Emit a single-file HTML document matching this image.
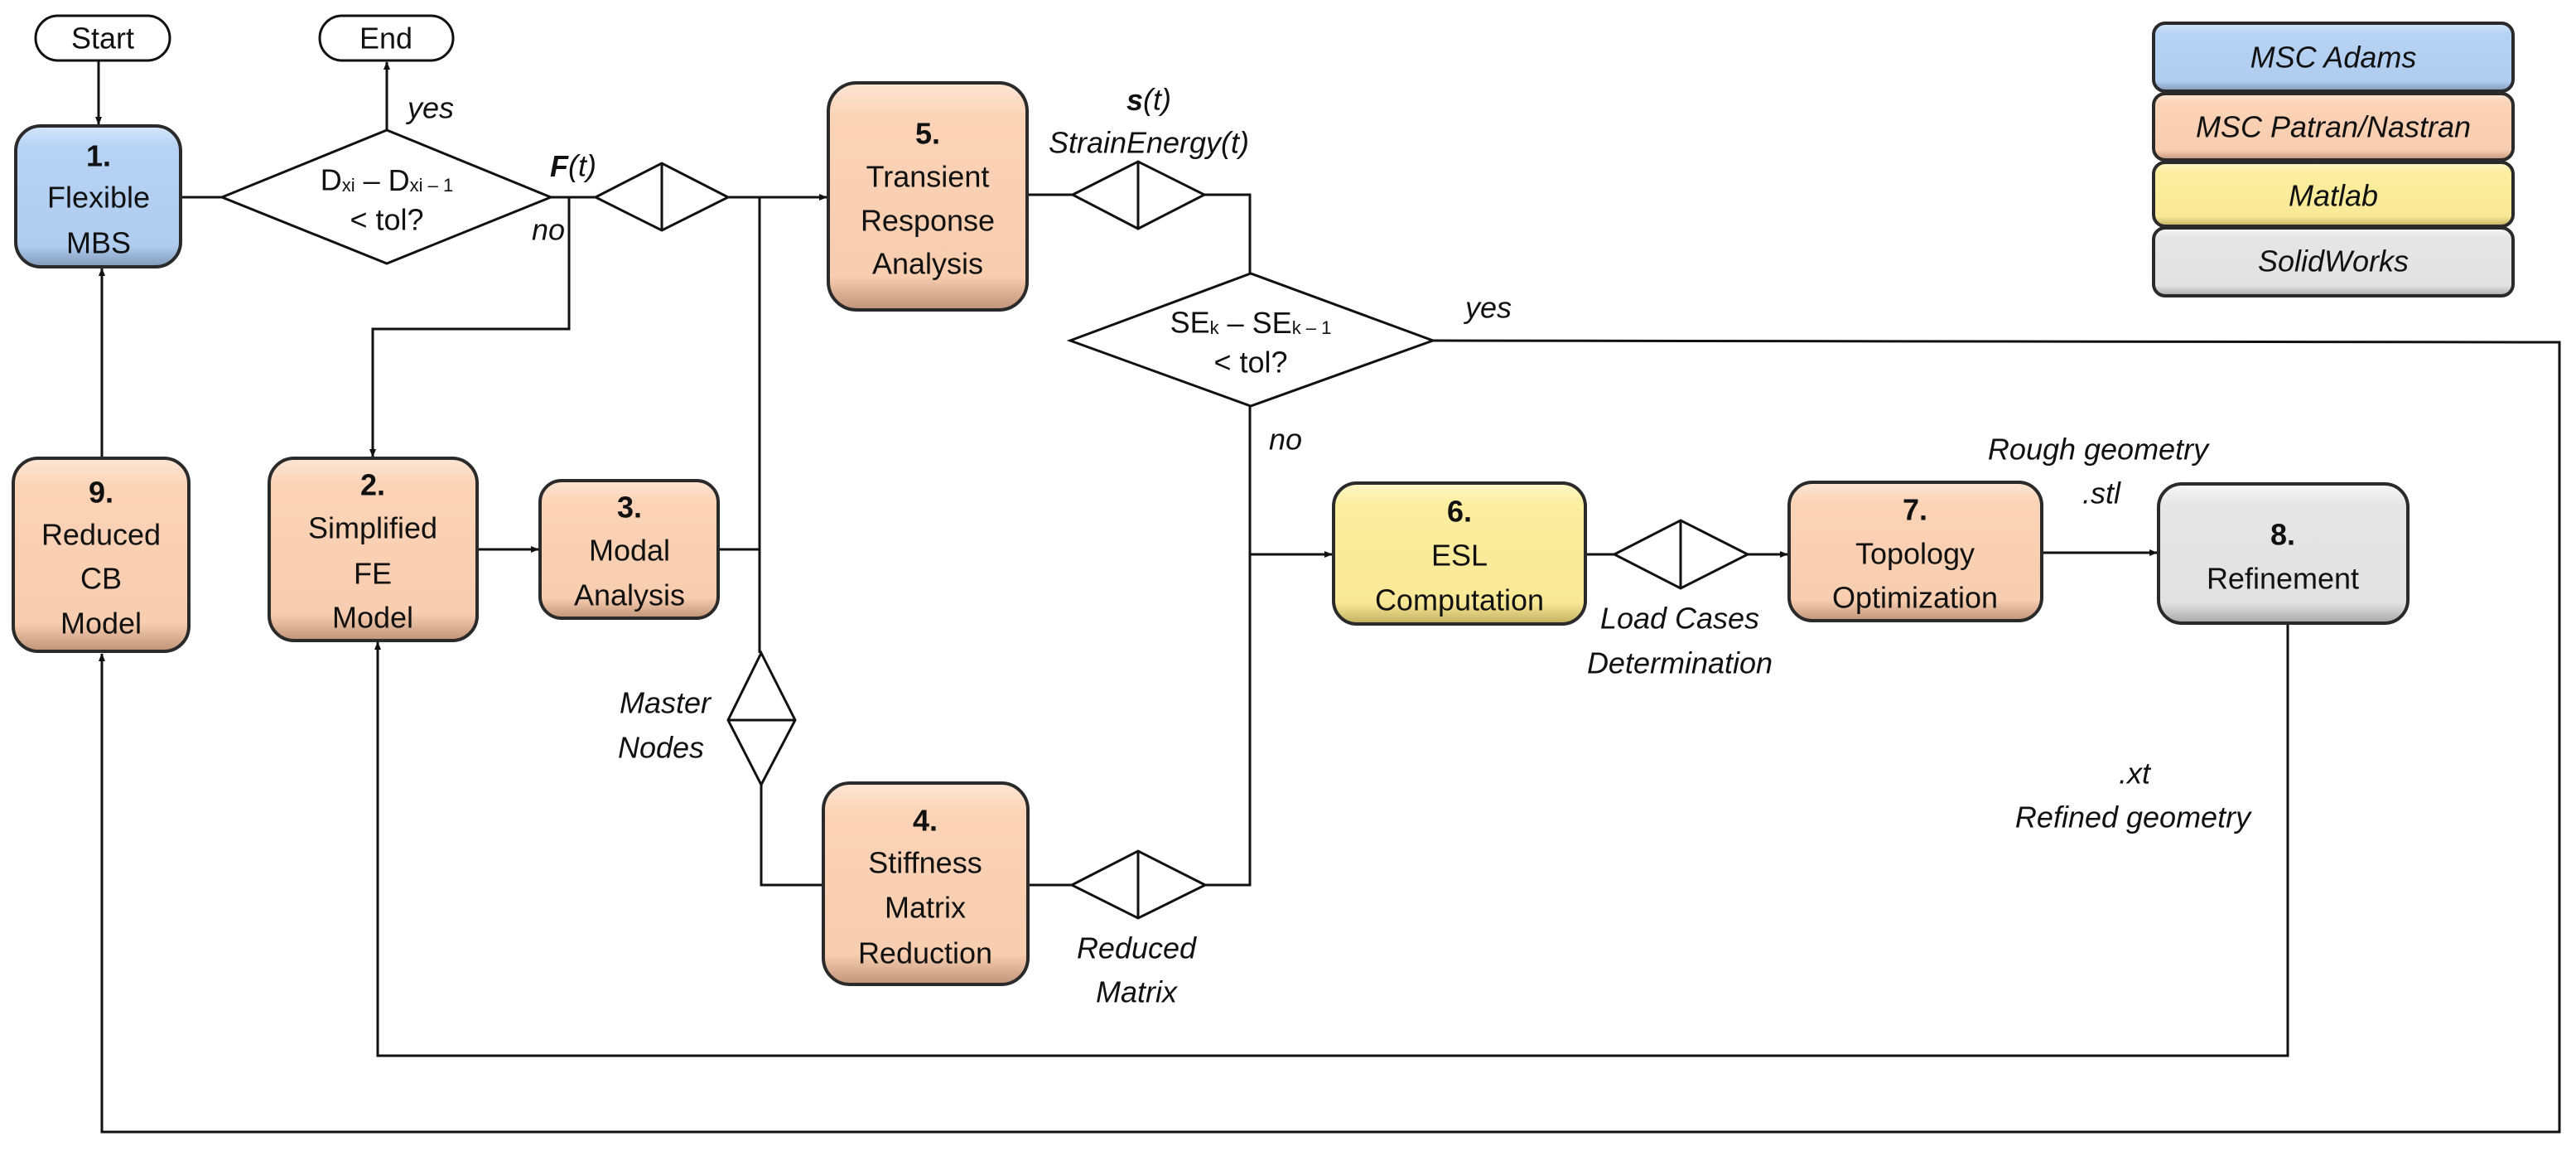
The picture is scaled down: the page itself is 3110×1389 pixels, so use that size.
<!DOCTYPE html>
<html><head><meta charset="utf-8"><style>
html,body{margin:0;padding:0;background:#fff;}
svg{display:block;}
text{font-family:"Liberation Sans",sans-serif;fill:#111;}
.t{font-size:36px;text-anchor:middle;dominant-baseline:central;}
.b{font-weight:bold;}
.i{font-style:italic;}
.ln{stroke:#111;stroke-width:3;fill:none;}
.dm{stroke:#111;stroke-width:3;fill:#fff;}
.bx{stroke:#2a2a2a;stroke-width:4;}
</style></head><body>
<svg width="3110" height="1389" viewBox="0 0 3110 1389" xmlns="http://www.w3.org/2000/svg">
<defs>
<linearGradient id="gB" x1="0" y1="0" x2="0" y2="1"><stop offset="0" stop-color="#d4e6fa"/><stop offset="0.15" stop-color="#b6d3f4"/><stop offset="0.85" stop-color="#b0cdef"/><stop offset="1" stop-color="#7f99b8"/></linearGradient>
<linearGradient id="gO" x1="0" y1="0" x2="0" y2="1"><stop offset="0" stop-color="#fde6d4"/><stop offset="0.15" stop-color="#fbd3b6"/><stop offset="0.85" stop-color="#f8cdb0"/><stop offset="1" stop-color="#c09478"/></linearGradient>
<linearGradient id="gY" x1="0" y1="0" x2="0" y2="1"><stop offset="0" stop-color="#fef6c8"/><stop offset="0.15" stop-color="#fcee9f"/><stop offset="0.85" stop-color="#f9e997"/><stop offset="1" stop-color="#bfae5e"/></linearGradient>
<linearGradient id="gG" x1="0" y1="0" x2="0" y2="1"><stop offset="0" stop-color="#f6f6f6"/><stop offset="0.15" stop-color="#e6e6e6"/><stop offset="0.85" stop-color="#e2e2e2"/><stop offset="1" stop-color="#a9a9a9"/></linearGradient>
<marker id="ar" markerWidth="10" markerHeight="10" refX="9" refY="5" orient="auto" markerUnits="userSpaceOnUse"><path d="M0,1 L10,5 L0,9 z" fill="#111"/></marker>
</defs>

<!-- connectors -->
<line class="ln" x1="119" y1="73" x2="119" y2="150" marker-end="url(#ar)"/>
<line class="ln" x1="467" y1="157" x2="467" y2="75" marker-end="url(#ar)"/>
<line class="ln" x1="218" y1="238" x2="268" y2="238"/>
<line class="ln" x1="665" y1="238" x2="719" y2="238"/>
<line class="ln" x1="879" y1="238" x2="998" y2="238" marker-end="url(#ar)"/>
<polyline class="ln" points="687,238 687,397 450,397 450,551" marker-end="url(#ar)"/>
<polyline class="ln" points="917,238 917,788"/>
<line class="ln" x1="556" y1="663" x2="650" y2="663" marker-end="url(#ar)"/>
<polyline class="ln" points="867,663 917,663"/>
<polyline class="ln" points="919,947 919,1068 994,1068"/>
<line class="ln" x1="1241" y1="1068" x2="1294" y2="1068"/>
<polyline class="ln" points="1455,1068 1509,1068 1509,490"/>
<line class="ln" x1="1509" y1="669" x2="1608" y2="669" marker-end="url(#ar)"/>
<line class="ln" x1="1240" y1="235" x2="1295" y2="235"/>
<polyline class="ln" points="1454,235 1509,235 1509,330"/>
<polyline class="ln" points="1730,411 3090,413 3090,1366 123,1366 123,789" marker-end="url(#ar)"/>
<line class="ln" x1="123" y1="553" x2="123" y2="324" marker-end="url(#ar)"/>
<line class="ln" x1="1914" y1="669" x2="1949" y2="669"/>
<line class="ln" x1="2110" y1="669" x2="2158" y2="669" marker-end="url(#ar)"/>
<line class="ln" x1="2465" y1="667" x2="2604" y2="667" marker-end="url(#ar)"/>
<polyline class="ln" points="2762,752 2762,1274 456,1274 456,775" marker-end="url(#ar)"/>

<!-- terminators -->
<rect x="43" y="19" width="162" height="54" rx="27" fill="#fff" stroke="#111" stroke-width="3"/>
<text class="t" x="124" y="46">Start</text>
<rect x="386" y="19" width="161" height="54" rx="27" fill="#fff" stroke="#111" stroke-width="3"/>
<text class="t" x="466" y="46">End</text>

<!-- decision diamonds -->
<polygon class="dm" points="268,238 467,157 665,238 467,318"/>
<text class="t" x="467" y="217">D<tspan font-size="22" dy="6">xi</tspan><tspan dy="-6"> – D</tspan><tspan font-size="22" dy="6">xi – 1</tspan></text>
<text class="t" x="467" y="265">&lt; tol?</text>
<polygon class="dm" points="1292,411 1510,330 1730,411 1510,490"/>
<text class="t" x="1510" y="389">SE<tspan font-size="22" dy="6">k</tspan><tspan dy="-6"> – SE</tspan><tspan font-size="22" dy="6">k – 1</tspan></text>
<text class="t" x="1510" y="437">&lt; tol?</text>

<!-- small diamonds -->
<polygon class="dm" points="719,238 799,197 879,238 799,278"/><line class="ln" x1="799" y1="197" x2="799" y2="278"/>
<polygon class="dm" points="1295,235 1374,195 1454,235 1374,276"/><line class="ln" x1="1374" y1="195" x2="1374" y2="276"/>
<polygon class="dm" points="919,788 960,869 919,947 879,869"/><line class="ln" x1="879" y1="869" x2="960" y2="869"/>
<polygon class="dm" points="1294,1068 1374,1027 1455,1068 1374,1108"/><line class="ln" x1="1374" y1="1027" x2="1374" y2="1108"/>
<polygon class="dm" points="1949,669 2029,628 2110,669 2029,710"/><line class="ln" x1="2029" y1="628" x2="2029" y2="710"/>

<!-- boxes -->
<rect class="bx" x="19" y="152" width="199" height="170" rx="30" fill="url(#gB)"/>
<text class="t b" x="119" y="188">1.</text><text class="t" x="119" y="238">Flexible</text><text class="t" x="119" y="293">MBS</text>

<rect class="bx" x="1000" y="100" width="240" height="274" rx="34" fill="url(#gO)"/>
<text class="t b" x="1120" y="161">5.</text><text class="t" x="1120" y="213">Transient</text><text class="t" x="1120" y="266">Response</text><text class="t" x="1120" y="318">Analysis</text>

<rect class="bx" x="16" y="553" width="212" height="233" rx="30" fill="url(#gO)"/>
<text class="t b" x="122" y="594">9.</text><text class="t" x="122" y="645">Reduced</text><text class="t" x="122" y="698">CB</text><text class="t" x="122" y="752">Model</text>

<rect class="bx" x="325" y="553" width="251" height="220" rx="30" fill="url(#gO)"/>
<text class="t b" x="450" y="585">2.</text><text class="t" x="450" y="637">Simplified</text><text class="t" x="450" y="692">FE</text><text class="t" x="450" y="745">Model</text>

<rect class="bx" x="652" y="580" width="215" height="166" rx="26" fill="url(#gO)"/>
<text class="t b" x="760" y="612">3.</text><text class="t" x="760" y="664">Modal</text><text class="t" x="760" y="718">Analysis</text>

<rect class="bx" x="994" y="945" width="247" height="243" rx="32" fill="url(#gO)"/>
<text class="t b" x="1117" y="990">4.</text><text class="t" x="1117" y="1041">Stiffness</text><text class="t" x="1117" y="1095">Matrix</text><text class="t" x="1117" y="1150">Reduction</text>

<rect class="bx" x="1610" y="583" width="304" height="170" rx="28" fill="url(#gY)"/>
<text class="t b" x="1762" y="617">6.</text><text class="t" x="1762" y="670">ESL</text><text class="t" x="1762" y="724">Computation</text>

<rect class="bx" x="2160" y="582" width="305" height="167" rx="28" fill="url(#gO)"/>
<text class="t b" x="2312" y="615">7.</text><text class="t" x="2312" y="668">Topology</text><text class="t" x="2312" y="721">Optimization</text>

<rect class="bx" x="2606" y="584" width="301" height="168" rx="28" fill="url(#gG)"/>
<text class="t b" x="2756" y="645">8.</text><text class="t" x="2756" y="698">Refinement</text>

<!-- legend -->
<rect class="bx" x="2600" y="28" width="434" height="82" rx="14" fill="url(#gB)"/>
<text class="t i" x="2817" y="69">MSC Adams</text>
<rect class="bx" x="2600" y="113" width="434" height="80" rx="14" fill="url(#gO)"/>
<text class="t i" x="2817" y="153">MSC Patran/Nastran</text>
<rect class="bx" x="2600" y="196" width="434" height="77" rx="14" fill="url(#gY)"/>
<text class="t i" x="2817" y="236">Matlab</text>
<rect class="bx" x="2600" y="275" width="434" height="82" rx="14" fill="url(#gG)"/>
<text class="t i" x="2817" y="315">SolidWorks</text>

<!-- labels -->
<text class="t i" x="520" y="130">yes</text>
<text class="t i" x="692" y="200"><tspan font-weight="bold">F</tspan>(t)</text>
<text class="t i" x="662" y="277">no</text>
<text class="t i" x="1387" y="120"><tspan font-weight="bold">s</tspan>(t)</text>
<text class="t i" x="1387" y="172">StrainEnergy(t)</text>
<text class="t i" x="1797" y="371">yes</text>
<text class="t i" x="1552" y="530">no</text>
<text class="t i" x="803" y="848">Master</text>
<text class="t i" x="798" y="902">Nodes</text>
<text class="t i" x="1372" y="1144">Reduced</text>
<text class="t i" x="1372" y="1197">Matrix</text>
<text class="t i" x="2028" y="746">Load Cases</text>
<text class="t i" x="2028" y="800">Determination</text>
<text class="t i" x="2533" y="542">Rough geometry</text>
<text class="t i" x="2537" y="595">.stl</text>
<text class="t i" x="2577" y="933">.xt</text>
<text class="t i" x="2575" y="986">Refined geometry</text>
</svg>
</body></html>
